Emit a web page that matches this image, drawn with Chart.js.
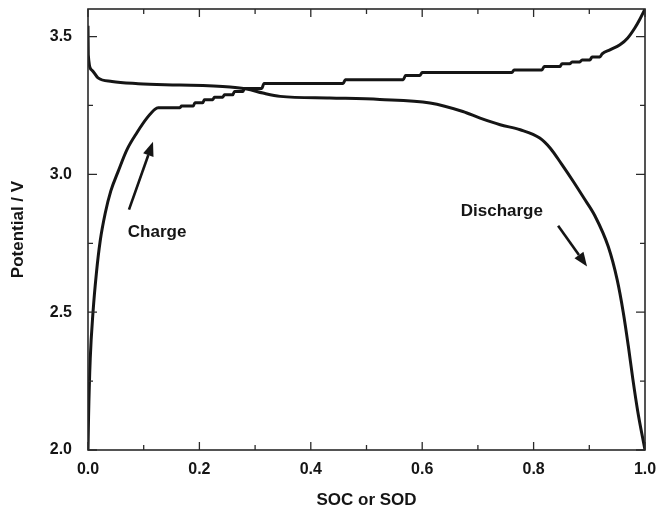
<!DOCTYPE html>
<html>
<head>
<meta charset="utf-8">
<script src="https://cdn.jsdelivr.net/npm/chart.js@4/dist/chart.umd.min.js"></script>
<style>
  html, body { margin: 0; padding: 0; background: #fff; }
  #wrap { width: 656px; height: 513px; }
</style>
</head>
<body>
<div id="wrap"><canvas id="soc-chart"></canvas></div>
<script>
    "use strict";

    // charge curve (SOC, V)
    var socCharge = [0, 0.001, 0.004, 0.009, 0.015, 0.022, 0.031, 0.041, 0.054, 0.070,
        0.088, 0.106, 0.120, 0.126, 0.165, 0.168, 0.189, 0.192, 0.206, 0.209,
        0.224, 0.227, 0.242, 0.245, 0.260, 0.263, 0.278, 0.281, 0.312, 0.316,
        0.458, 0.462, 0.566, 0.570, 0.596, 0.600, 0.761, 0.765, 0.815, 0.819,
        0.847, 0.851, 0.865, 0.869, 0.883, 0.887, 0.901, 0.905, 0.919, 0.923,
        0.937, 0.955, 0.969, 0.982, 0.991, 1.0];
    var vCharge = [2.0, 2.12, 2.33, 2.50, 2.64, 2.76, 2.86, 2.94, 3.01, 3.09,
        3.152, 3.205, 3.236, 3.242, 3.242, 3.248, 3.248, 3.260, 3.260, 3.271,
        3.271, 3.280, 3.280, 3.289, 3.289, 3.301, 3.301, 3.312, 3.312, 3.330,
        3.330, 3.343, 3.343, 3.359, 3.359, 3.370, 3.370, 3.379, 3.379, 3.391,
        3.391, 3.401, 3.401, 3.408, 3.408, 3.415, 3.415, 3.426, 3.426, 3.437,
        3.452, 3.470, 3.495, 3.532, 3.564, 3.600];

    // discharge curve (SOD, V)
    var sodDischarge = [0, 0.0005, 0.0066, 0.018, 0.043, 0.090, 0.138, 0.165, 0.255, 0.285,
        0.314, 0.345, 0.434, 0.524, 0.614, 0.673, 0.704, 0.740, 0.776, 0.811,
        0.830, 0.850, 0.871, 0.890, 0.910, 0.934, 0.950, 0.961, 0.970, 0.978,
        0.987, 1.0];
    var vDischarge = [3.539, 3.434, 3.379, 3.350, 3.337, 3.329, 3.325, 3.324, 3.317, 3.310,
        3.295, 3.283, 3.277, 3.272, 3.259, 3.228, 3.204, 3.180, 3.162, 3.132,
        3.095, 3.038, 2.975, 2.915, 2.850, 2.738, 2.618, 2.499, 2.378, 2.260,
        2.140, 2.0];

    // axis ticks
    var xMajor = [0, 0.2, 0.4, 0.6, 0.8, 1.0];
    var xMinor = [0.1, 0.3, 0.5, 0.7, 0.9];
    var yMajor = [2.0, 2.5, 3.0, 3.5];
    var yMinor = [2.25, 2.75, 3.25];

    // annotations, in data units
    var notes = [
        { text: "Charge", x: 0.124, y: 2.79, from: [0.0736, 2.872], to: [0.1167, 3.118] },
        { text: "Discharge", x: 0.743, y: 2.865, from: [0.844, 2.814], to: [0.896, 2.666] }
    ];

    function toPoints(xs, ys) {
        var pts = [];
        for (var i = 0; i < xs.length; i++) pts.push({ x: xs[i], y: ys[i] });
        return pts;
    }

    function noPad(s) {
        s.paddingTop = 0; s.paddingBottom = 0;
        s.paddingLeft = 0; s.paddingRight = 0;
    }

    var FONT = "'Liberation Sans', Arial, sans-serif";
    var INK = '#151515';

    var frame = {
        id: 'frame',
        afterDatasetsDraw: function (chart) {
            var ctx = chart.ctx, a = chart.chartArea;
            var sx = chart.scales.x, sy = chart.scales.y;
            ctx.save();
            ctx.strokeStyle = '#2a2a2a';
            ctx.lineWidth = 1.6;
            ctx.strokeRect(a.left, a.top, a.right - a.left, a.bottom - a.top);
            ctx.lineWidth = 1.3;
            ctx.beginPath();
            function xt(v, len) {
                var p = sx.getPixelForValue(v);
                ctx.moveTo(p, a.bottom); ctx.lineTo(p, a.bottom - len);
                ctx.moveTo(p, a.top); ctx.lineTo(p, a.top + len);
            }
            function yt(v, len) {
                var p = sy.getPixelForValue(v);
                ctx.moveTo(a.left, p); ctx.lineTo(a.left + len, p);
                ctx.moveTo(a.right, p); ctx.lineTo(a.right - len, p);
            }
            xMajor.forEach(function (v) { xt(v, 8); });
            xMinor.forEach(function (v) { xt(v, 5); });
            yMajor.forEach(function (v) { yt(v, 9); });
            yMinor.forEach(function (v) { yt(v, 5); });
            ctx.stroke();

            // labels + arrows
            ctx.fillStyle = INK;
            ctx.strokeStyle = INK;
            ctx.font = 'bold 17px ' + FONT;
            ctx.textAlign = 'center';
            ctx.textBaseline = 'middle';
            notes.forEach(function (n) {
                ctx.fillText(n.text, sx.getPixelForValue(n.x), sy.getPixelForValue(n.y));
                var x1 = sx.getPixelForValue(n.from[0]), y1 = sy.getPixelForValue(n.from[1]);
                var x2 = sx.getPixelForValue(n.to[0]), y2 = sy.getPixelForValue(n.to[1]);
                var ang = Math.atan2(y2 - y1, x2 - x1), hl = 14, hw = 5.5;
                var bx = x2 - hl * Math.cos(ang), by = y2 - hl * Math.sin(ang);
                ctx.lineWidth = 2.6;
                ctx.beginPath();
                ctx.moveTo(x1, y1); ctx.lineTo(bx, by);
                ctx.stroke();
                ctx.beginPath();
                ctx.moveTo(x2, y2);
                ctx.lineTo(bx + hw * Math.sin(ang), by - hw * Math.cos(ang));
                ctx.lineTo(bx - hw * Math.sin(ang), by + hw * Math.cos(ang));
                ctx.closePath();
                ctx.fill();
            });
            ctx.restore();
        }
    };

    var lineStyle = {
        borderColor: INK,
        borderWidth: 3,
        pointRadius: 0,
        fill: false,
        showLine: true,
        cubicInterpolationMode: 'monotone'
    };

    new Chart(document.getElementById('soc-chart'), {
        type: 'scatter',
        data: {
            datasets: [
                Object.assign({ label: 'Charge', data: toPoints(socCharge, vCharge) }, lineStyle),
                Object.assign({ label: 'Discharge', data: toPoints(sodDischarge, vDischarge) }, lineStyle)
            ]
        },
        plugins: [frame],
        options: {
            responsive: true,
            maintainAspectRatio: false,
            animation: false,
            layout: { padding: { top: 9, right: 11, left: 0, bottom: 0 } },
            plugins: {
                legend: { display: false },
                tooltip: { enabled: false }
            },
            scales: {
                x: {
                    type: 'linear',
                    min: 0,
                    max: 1,
                    afterFit: function (s) { s.height = 63; noPad(s); },
                    grid: { display: false, drawTicks: false },
                    border: { display: false },
                    ticks: {
                        stepSize: 0.2,
                        includeBounds: false,
                        padding: 10,
                        color: INK,
                        font: { family: FONT, size: 16, weight: 'bold' },
                        callback: function (v) { return v.toFixed(1); }
                    },
                    title: {
                        display: true,
                        text: 'SOC or SOD',
                        color: INK,
                        padding: { top: 0, bottom: 2 },
                        font: { family: FONT, size: 17, weight: 'bold' }
                    }
                },
                y: {
                    type: 'linear',
                    min: 2.0,
                    max: 3.6,
                    afterFit: function (s) { s.width = 88; noPad(s); },
                    grid: { display: false, drawTicks: false },
                    border: { display: false },
                    ticks: {
                        stepSize: 0.5,
                        includeBounds: false,
                        padding: 16,
                        color: INK,
                        font: { family: FONT, size: 16, weight: 'bold' },
                        callback: function (v) { return v.toFixed(1); }
                    },
                    title: {
                        display: true,
                        text: 'Potential / V',
                        color: INK,
                        padding: { top: 8, bottom: 0 },
                        font: { family: FONT, size: 17, weight: 'bold' }
                    }
                }
            }
        }
    });
</script>
</body>
</html>
